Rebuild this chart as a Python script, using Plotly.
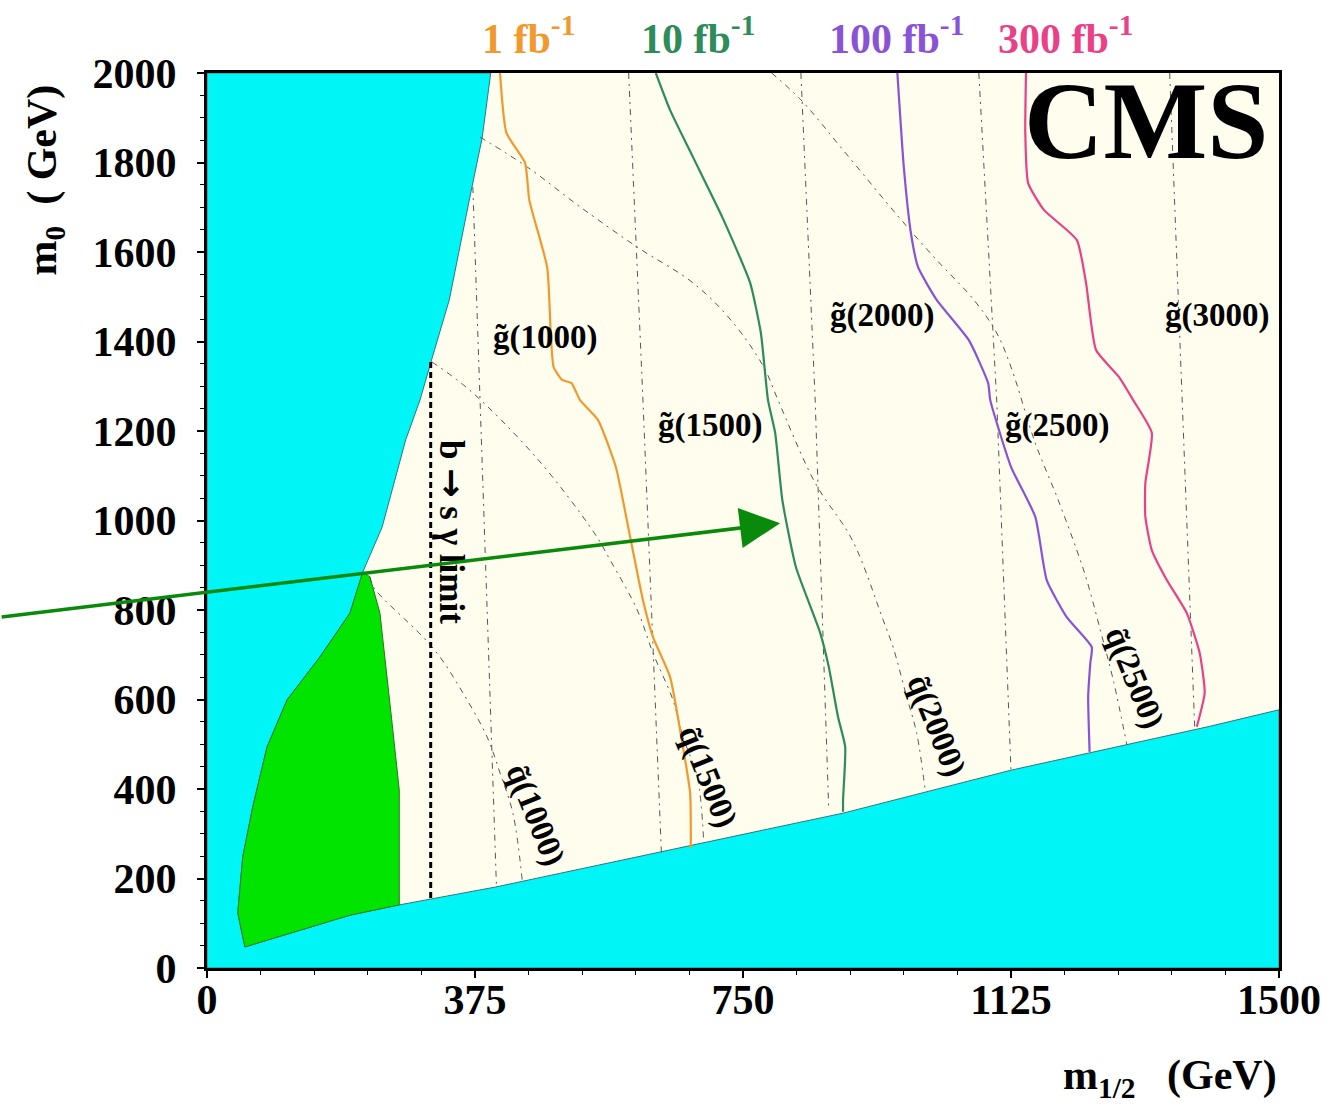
import plotly.graph_objects as go

# ---------------- data (GeV) ----------------
# upper-left excluded region boundary (top edge -> tip of green region)
cyan_upper_x = [397, 385, 367, 339, 315, 298, 278, 245, 218]
cyan_upper_y = [2000, 1855, 1716, 1493, 1363, 1269, 1180, 985, 885]
# lower excluded region boundary (green region corner -> right edge)
cyan_lower_x = [269, 404, 532, 616, 760, 890, 1125, 1403, 1500]
cyan_lower_y = [141, 181, 224, 253, 302, 346, 442, 540, 577]
# green region: left edge (top->bottom), bottom, right edge (bottom->top)
green_x = [218, 200, 158, 112, 84, 64, 50, 43, 53, 200, 269, 269, 259, 242, 228, 218]
green_y = [885, 793, 695, 599, 494, 360, 248, 123, 47, 118, 141, 398, 547, 793, 874, 885]

# 5 sigma reach contours
lumi_labels = ["1 fb<sup>-1</sup>", "10 fb<sup>-1</sup>", "100 fb<sup>-1</sup>", "300 fb<sup>-1</sup>"]
lumi_colors = ["#F2992E", "#2E8B5A", "#8A52D6", "#E94088"]
reach_1_x = [410, 419, 445, 451, 476, 481, 485, 497, 510, 522, 547, 572, 591, 610, 624, 648, 666, 676, 677]
reach_1_y = [2000, 1866, 1799, 1716, 1566, 1419, 1343, 1314, 1307, 1269, 1225, 1120, 972, 822, 740, 650, 494, 391, 268]
reach_10_x = [628, 648, 680, 721, 760, 775, 785, 795, 805, 824, 858, 870, 883, 893, 890, 890]
reach_10_y = [2000, 1917, 1812, 1678, 1531, 1419, 1269, 1196, 1046, 896, 749, 673, 561, 494, 375, 349]
reach_100_x = [966, 975, 985, 995, 1021, 1066, 1093, 1096, 1125, 1159, 1175, 1203, 1238, 1236, 1233, 1235]
reach_100_y = [2000, 1790, 1642, 1566, 1493, 1403, 1307, 1269, 1120, 1008, 867, 784, 717, 682, 606, 483]
reach_300_x = [1146, 1145, 1149, 1171, 1217, 1230, 1244, 1276, 1296, 1322, 1313, 1313, 1322, 1343, 1371, 1389, 1396, 1385]
reach_300_y = [2000, 1866, 1754, 1694, 1627, 1531, 1381, 1321, 1269, 1196, 1084, 1008, 934, 867, 793, 704, 615, 539]

# iso-mass gluino lines (top, middle, bottom points)
gluino_masses = [1000, 1500, 2000, 2500, 3000]
gluino_x = [[372, 388, 405], [590, 610, 636], [831, 851, 870], [1080, 1105, 1125], [1347, 1364, 1382]]
gluino_y = [[1745, 1000, 183], [2000, 1269, 250], [2000, 1269, 352], [2000, 1269, 440], [2000, 1269, 539]]
gluino_label_x = [473, 704, 944, 1189, 1413]
gluino_label_y = [1408, 1213, 1459, 1213, 1459]

# iso-mass squark lines
squark_masses = [1000, 1500, 2000, 2500]
squark_x = [
    [228, 233, 302, 326, 358, 392, 410, 428, 441],
    [315, 367, 460, 542, 564, 602, 624, 652, 666, 686, 695],
    [382, 448, 522, 602, 680, 733, 779, 799, 851, 903, 946, 960, 979, 993, 1005],
    [790, 831, 890, 968, 1021, 1073, 1105, 1125, 1159, 1191, 1217, 1231, 1250, 1268, 1287],
]
squark_y = [
    [874, 851, 740, 695, 615, 516, 436, 346, 197],
    [1354, 1292, 1142, 972, 912, 800, 704, 599, 516, 427, 280],
    [1857, 1790, 1701, 1611, 1531, 1448, 1343, 1269, 1084, 956, 778, 717, 606, 525, 395],
    [2000, 1940, 1828, 1678, 1582, 1493, 1419, 1343, 1173, 1046, 934, 867, 755, 644, 500],
]
squark_label_x = [459, 700, 1021, 1298]
squark_label_y = [342, 427, 543, 650]

# b -> s gamma limit
bsg_x = [313, 313]
bsg_y = [1354, 152]

# ---------------- styles ----------------
CREAM = "#FEFDEE"
CYAN = "#00F6F6"
GREEN = "#00E400"
GRAY = "#555555"
SERIF = "Liberation Serif"
NB = "\u00a0"

fig = go.Figure()

# excluded (cyan) region, one polygon around the allowed region
gl_x = green_x[:10][::-1]
gl_y = green_y[:10][::-1]
cx = [0, 1500] + cyan_lower_x[::-1] + gl_x + cyan_upper_x[::-1][1:] + [0, 0]
cy = [0, 0] + cyan_lower_y[::-1] + gl_y + cyan_upper_y[::-1][1:] + [2000, 0]
fig.add_trace(go.Scatter(x=cx, y=cy, mode="lines", fill="toself", fillcolor=CYAN,
                         line=dict(color="#2B7A7A", width=1), hoverinfo="skip"))
fig.add_trace(go.Scatter(x=green_x, y=green_y, mode="lines", fill="toself", fillcolor=GREEN,
                         line=dict(color="#1F7A1F", width=1), hoverinfo="skip"))

# iso-mass lines
for xs, ys in zip(gluino_x, gluino_y):
    fig.add_trace(go.Scatter(x=xs, y=ys, mode="lines",
                             line=dict(color=GRAY, width=1, dash="6px,5px,2px,5px"), hoverinfo="skip"))
for xs, ys in zip(squark_x, squark_y):
    fig.add_trace(go.Scatter(x=xs, y=ys, mode="lines", line_shape="spline",
                             line=dict(color=GRAY, width=1, dash="6px,5px,2px,5px"), hoverinfo="skip"))

# b -> s gamma
fig.add_trace(go.Scatter(x=bsg_x, y=bsg_y, mode="lines",
                         line=dict(color="black", width=3, dash="6px,4px"), hoverinfo="skip"))

# reach contours
for xs, ys, col in zip([reach_1_x, reach_10_x, reach_100_x, reach_300_x],
                       [reach_1_y, reach_10_y, reach_100_y, reach_300_y], lumi_colors):
    fig.add_trace(go.Scatter(x=xs, y=ys, mode="lines", line_shape="spline",
                             line=dict(color=col, width=2.2, smoothing=0.5), hoverinfo="skip"))

ann = []
lab_font = dict(family=SERIF, size=33, color="black", weight="bold")
for m, x, y in zip(gluino_masses, gluino_label_x, gluino_label_y):
    ann.append(dict(x=x, y=y, xref="x", yref="y", text=f"g\u0303({m})", showarrow=False,
                    xanchor="center", yanchor="middle", font=lab_font))
for m, x, y in zip(squark_masses, squark_label_x, squark_label_y):
    ann.append(dict(x=x, y=y, xref="x", yref="y", text=f"q\u0303({m})", showarrow=False,
                    xanchor="center", yanchor="middle", textangle=68, font=lab_font))
ann.append(dict(x=343, y=974, xref="x", yref="y",
                text="b <span style='font-family:DejaVu Sans'>\u2192</span> s \u03b3 limit",
                showarrow=False, xanchor="center", yanchor="middle", textangle=90,
                font=dict(family=SERIF, size=35, color="black", weight="bold")))

# luminosity labels above the frame
lumi_xpaper = [0.300, 0.458, 0.643, 0.801]
for t, c, xp in zip(lumi_labels, lumi_colors, lumi_xpaper):
    ann.append(dict(x=xp, y=1.042, xref="paper", yref="paper", text=t, showarrow=False,
                    xanchor="center", yanchor="middle",
                    font=dict(family=SERIF, size=42, color=c, weight="bold")))

# CMS
ann.append(dict(x=0.9916, y=0.946, xref="paper", yref="paper", text="CMS", showarrow=False,
                xanchor="right", yanchor="middle",
                font=dict(family=SERIF, size=110, color="black", weight="bold")))

# axis titles
ann.append(dict(x=-0.151, y=0.880, xref="paper", yref="paper", text=f"m<sub>0</sub>{NB}{NB}({NB}GeV)",
                showarrow=False, xanchor="center", yanchor="middle", textangle=-90,
                font=dict(family=SERIF, size=42, color="black", weight="bold")))
ann.append(dict(x=1.0, y=-0.123, xref="paper", yref="paper", text=f"m<sub>1/2</sub>{NB}{NB}{NB}(GeV)",
                showarrow=False, xanchor="right", yanchor="middle",
                font=dict(family=SERIF, size=42, color="black", weight="bold")))

# green arrow
ann.append(dict(x=802, y=994, xref="x", yref="y", ax=-780, ay=94, axref="pixel", ayref="pixel",
                showarrow=True, arrowhead=2, arrowsize=2.3, arrowwidth=3.5, arrowcolor="#0A8A0A",
                text=""))

tickfont = dict(family=SERIF, size=42, color="black", weight="bold")
fig.update_layout(
    width=1333, height=1108,
    margin=dict(l=207, r=54, t=73, b=140),
    paper_bgcolor="white", plot_bgcolor=CREAM,
    showlegend=False, annotations=ann,
    xaxis=dict(range=[0, 1500], tick0=0, dtick=375, ticks="outside", ticklen=7, tickwidth=2,
               tickcolor="black", showline=True, linecolor="black", linewidth=3, mirror=True,
               showgrid=False, zeroline=False, tickfont=tickfont, ticklabelstandoff=-14,
               minor=dict(dtick=75, ticks="outside", ticklen=4, tickcolor="black", tickwidth=1, showgrid=False)),
    yaxis=dict(range=[0, 2000], tick0=0, dtick=200, ticks="outside", ticklen=7, tickwidth=2,
               tickcolor="black", showline=True, linecolor="black", linewidth=3, mirror=True,
               showgrid=False, zeroline=False, tickfont=tickfont, ticklabelstandoff=12,
               minor=dict(dtick=50, ticks="outside", ticklen=4, tickcolor="black", tickwidth=1, showgrid=False)),
)

fig.write_html("out.html", config={"displayModeBar": False},
               post_script="document.body.style.margin='0px';")
